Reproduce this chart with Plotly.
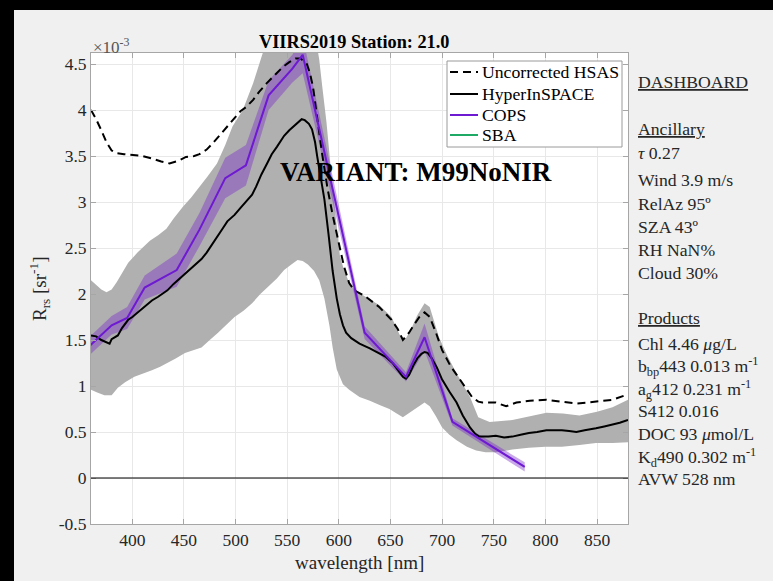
import plotly.graph_objects as go

# ---------------- data (reflectance in units of 1e-3 sr^-1) ----------------
hyp_wl = [360, 365, 370, 375, 378, 380, 383, 386, 390, 396, 400, 405, 410, 415, 419, 425, 430, 434,
          440, 445, 451, 455, 460, 467, 472, 477, 483, 488, 492, 499, 505, 510, 516, 520, 525, 531,
          535, 540, 547, 552, 556, 560, 564, 567, 571, 574, 577, 579, 582, 586, 590, 594, 598, 601,
          604, 607, 612, 620, 630, 639, 645, 652, 657, 662, 665, 668, 672, 676, 680, 683, 686, 690,
          695, 700, 707, 714, 720, 727, 732, 736, 745, 752, 760, 768, 776, 784, 792, 801, 808, 816,
          823, 830, 838, 845, 849, 857, 865, 872, 880]
hyp_rrs = [1.55, 1.54, 1.50, 1.48, 1.46, 1.51, 1.53, 1.55, 1.63, 1.72, 1.75, 1.80, 1.84, 1.89, 1.93,
           1.97, 2.01, 2.04, 2.11, 2.16, 2.23, 2.27, 2.31, 2.38, 2.45, 2.53, 2.63, 2.72, 2.79, 2.86,
           2.94, 3.00, 3.08, 3.17, 3.30, 3.43, 3.52, 3.60, 3.72, 3.78, 3.82, 3.87, 3.90, 3.89, 3.85,
           3.79, 3.65, 3.50, 3.30, 3.03, 2.65, 2.25, 1.95, 1.78, 1.66, 1.58, 1.52, 1.46, 1.41, 1.36,
           1.32, 1.25, 1.17, 1.10, 1.08, 1.12, 1.22, 1.30, 1.35, 1.37, 1.36, 1.30, 1.20, 1.07, 0.94,
           0.82, 0.68, 0.55, 0.48, 0.45, 0.45, 0.46, 0.44, 0.45, 0.47, 0.49, 0.50, 0.52, 0.52, 0.52,
           0.51, 0.50, 0.52, 0.53, 0.54, 0.56, 0.58, 0.60, 0.63]

band_hi_wl = [360, 365, 370, 375, 380, 385, 390, 396, 405, 412, 417, 425, 433, 440, 449, 457, 465,
              473, 482, 490, 497, 507, 517, 523, 530, 545, 565, 578, 581, 584, 588, 594, 601, 604,
              610, 615, 623, 639, 651, 660, 665, 670, 676, 683, 688, 697, 705, 714, 727, 735, 746,
              768, 785, 801, 817, 833, 850, 865, 880]
band_hi = [2.15, 2.10, 2.05, 2.02, 2.05, 2.13, 2.22, 2.34, 2.45, 2.53, 2.58, 2.64, 2.71, 2.82, 2.95,
           3.05, 3.16, 3.28, 3.42, 3.62, 3.82, 4.00, 4.29, 4.51, 4.75, 4.95, 4.95, 4.75, 4.55, 4.25,
           3.87, 3.15, 2.42, 2.30, 2.12, 2.05, 1.99, 1.88, 1.75, 1.53, 1.52, 1.62, 1.77, 1.90, 1.86,
           1.53, 1.33, 1.14, 0.88, 0.66, 0.61, 0.63, 0.67, 0.71, 0.70, 0.68, 0.72, 0.77, 0.85]

band_lo_wl = [360, 366, 373, 380, 386, 393, 402, 410, 419, 427, 434, 442, 451, 459, 467, 475, 483,
              491, 499, 508, 516, 524, 531, 540, 547, 554, 560, 565, 570, 576, 581, 586, 591, 594,
              598, 604, 610, 620, 630, 640, 649, 656, 662, 668, 675, 683, 688, 694, 700, 707, 714,
              724, 733, 742, 752, 768, 784, 800, 816, 833, 849, 865, 880]
band_lo = [0.96, 0.93, 0.90, 0.90, 0.98, 1.04, 1.10, 1.13, 1.17, 1.21, 1.25, 1.30, 1.36, 1.39, 1.42,
           1.50, 1.58, 1.66, 1.75, 1.82, 1.90, 2.00, 2.08, 2.17, 2.26, 2.32, 2.37, 2.36, 2.32, 2.25,
           2.15, 1.95, 1.65, 1.42, 1.18, 1.02, 0.96, 0.88, 0.84, 0.79, 0.75, 0.70, 0.66, 0.70, 0.76,
           0.82, 0.78, 0.67, 0.55, 0.47, 0.41, 0.34, 0.30, 0.28, 0.28, 0.31, 0.33, 0.34, 0.34, 0.36,
           0.38, 0.38, 0.39]

unc_wl = [360, 365, 370, 375, 380, 385, 392, 400, 410, 420, 428, 436, 445, 452, 460, 465, 472, 478,
          485, 490, 497, 505, 510, 517, 523, 530, 538, 546, 552, 558, 563, 569, 572, 575, 578, 581,
          584, 589, 594, 601, 605, 610, 615, 625, 639, 651, 657, 662, 668, 673, 678, 683, 688, 694,
          700, 708, 717, 723, 729, 735, 739, 752, 762, 772, 785, 801, 816, 830, 840, 849, 865, 880]
unc_rrs = [4.00, 3.90, 3.78, 3.65, 3.56, 3.53, 3.52, 3.51, 3.50, 3.47, 3.44, 3.42, 3.45, 3.49, 3.50,
           3.52, 3.57, 3.64, 3.73, 3.79, 3.89, 3.99, 4.03, 4.11, 4.20, 4.29, 4.38, 4.47, 4.52, 4.56,
           4.56, 4.50, 4.40, 4.25, 4.00, 3.75, 3.51, 3.15, 2.86, 2.50, 2.30, 2.12, 2.04, 1.98, 1.86,
           1.72, 1.62, 1.50, 1.58, 1.67, 1.75, 1.80, 1.75, 1.58, 1.39, 1.22, 1.07, 0.97, 0.88, 0.83,
           0.82, 0.82, 0.78, 0.82, 0.84, 0.85, 0.83, 0.81, 0.82, 0.83, 0.85, 0.91]

cops_wl = [340, 380, 395, 412, 443, 465, 490, 510, 532, 555, 565, 625, 665, 683, 710, 780]
cops_rrs = [1.24, 1.66, 1.74, 2.07, 2.26, 2.70, 3.26, 3.40, 4.16, 4.45, 4.60, 1.58, 1.10, 1.53, 0.61, 0.12]
cops_sd = [0.10, 0.10, 0.12, 0.13, 0.18, 0.18, 0.22, 0.22, 0.16, 0.15, 0.20, 0.07, 0.05, 0.15, 0.04, 0.05]

x_ticks = [400, 450, 500, 550, 600, 650, 700, 750, 800, 850]
y_ticks = [-0.5, 0, 0.5, 1, 1.5, 2, 2.5, 3, 3.5, 4, 4.5]

series_names = ["Uncorrected HSAS", "HyperInSPACE", "COPS", "SBA"]
title_text = "VIIRS2019 Station: 21.0"
variant_text = "VARIANT: M99NoNIR"
x_title = "wavelength [nm]"
y_title = "R<sub>rs</sub> [sr<sup>-1</sup>]"
dash_lines = [
    ("<u>DASHBOARD</u>", 82),
    ("<u>Ancillary</u>", 129),
    ("<i>τ</i> 0.27", 153),
    ("Wind 3.9 m/s", 180),
    ("RelAz 95º", 204),
    ("SZA 43º", 227),
    ("RH NaN%", 250),
    ("Cloud 30%", 273),
    ("<u>Products</u>", 318),
    ("Chl 4.46 <i>μ</i>g/L", 344),
    ("b<sub>bp</sub>443 0.013 m<sup>-1</sup>", 366),
    ("a<sub>g</sub>412 0.231 m<sup>-1</sup>", 389),
    ("S412 0.016", 411),
    ("DOC 93 <i>μ</i>mol/L", 434),
    ("K<sub>d</sub>490 0.302 m<sup>-1</sup>", 457),
    ("AVW 528 nm", 479),
]

# ---------------- layout geometry ----------------
W, H = 773, 581
L, R, T, B = 91, 628, 53, 524
SERIF = "Liberation Serif, Times New Roman, serif"
TXT = "#262626"


def px(x):
    return (x - L) / (R - L)


def py(y):
    return (B - y) / (B - T)


PURPLE = "rgb(110,25,210)"
GREEN = "rgb(30,170,100)"
GRAY = "rgb(176,176,176)"
DASH = "8px,5px"

fig = go.Figure()

# HyperInSPACE std band
fig.add_trace(go.Scatter(
    x=band_hi_wl + band_lo_wl[::-1], y=band_hi + band_lo[::-1],
    fill="toself", fillcolor=GRAY, line=dict(width=0), mode="lines",
    showlegend=False, hoverinfo="skip"))

# COPS std band
cops_hi = [v + s for v, s in zip(cops_rrs, cops_sd)]
cops_lo = [v - s for v, s in zip(cops_rrs, cops_sd)]
fig.add_trace(go.Scatter(
    x=cops_wl + cops_wl[::-1], y=cops_hi + cops_lo[::-1],
    fill="toself", fillcolor="rgba(120,40,200,0.40)", line=dict(width=0), mode="lines",
    showlegend=False, hoverinfo="skip"))

fig.add_trace(go.Scatter(x=unc_wl, y=unc_rrs, mode="lines", name=series_names[0], showlegend=False,
                         line=dict(color="black", width=2, dash=DASH)))
fig.add_trace(go.Scatter(x=hyp_wl, y=hyp_rrs, mode="lines", name=series_names[1], showlegend=False,
                         line=dict(color="black", width=2)))
fig.add_trace(go.Scatter(x=cops_wl, y=cops_rrs, mode="lines", name=series_names[2], showlegend=False,
                         line=dict(color=PURPLE, width=2)))
fig.add_trace(go.Scatter(x=[None], y=[None], mode="lines", name=series_names[3], showlegend=False,
                         line=dict(color=GREEN, width=2)))

fig.add_hline(y=0, line=dict(color="black", width=1.2))

axis_common = dict(
    showgrid=True, gridcolor="#e8e8e8", gridwidth=1,
    showline=True, linecolor="#a6a6a6", linewidth=1, mirror="ticks",
    ticks="inside", ticklen=5, tickcolor="#a6a6a6",
    tickfont=dict(family=SERIF, size=17.5, color=TXT),
    zeroline=False,
)

fig.update_layout(
    width=W, height=H,
    margin=dict(l=L, r=W - R, t=T, b=H - B, pad=0),
    paper_bgcolor="#f0f0f0", plot_bgcolor="white",
    font=dict(family=SERIF, size=17, color=TXT),
    xaxis=dict(range=[360, 880], tickvals=x_ticks, ticktext=[str(v) for v in x_ticks],
               **axis_common),
    yaxis=dict(range=[-0.5, 4.62], tickvals=y_ticks,
               ticktext=[("%g" % v) for v in y_ticks],
               **axis_common),
    showlegend=False,
)

# axis titles (placed tight like MATLAB)
fig.add_annotation(text=x_title, x=px(359), y=py(562), xref="paper", yref="paper", showarrow=False,
                   font=dict(family=SERIF, size=19, color=TXT), xanchor="center", yanchor="middle")
fig.add_annotation(text=y_title, x=px(39), y=py(289), xref="paper", yref="paper", showarrow=False,
                   textangle=-90, font=dict(family=SERIF, size=19, color=TXT),
                   xanchor="center", yanchor="middle")

# ---- legend box (drawn in the MATLAB style) ----
fig.add_shape(type="rect", xref="paper", yref="paper", x0=px(447), x1=px(622), y0=py(147), y1=py(61),
              fillcolor="white", line=dict(color="#9a9a9a", width=1), layer="above")
leg_styles = [("black", DASH), ("black", "solid"), (PURPLE, "solid"), (GREEN, "solid")]
leg_y = [72, 94, 115, 135]
for name, (col, dsh), ly in zip(series_names, leg_styles, leg_y):
    fig.add_shape(type="line", xref="paper", yref="paper", x0=px(450), x1=px(478), y0=py(ly), y1=py(ly),
                  line=dict(color=col, width=2, dash=dsh), layer="above")
    fig.add_annotation(text=name, x=px(480), y=py(ly), xref="paper", yref="paper", showarrow=False,
                       font=dict(family=SERIF, size=17.7, color="black"),
                       xanchor="left", yanchor="middle")

# title
fig.add_annotation(text="<b>" + title_text + "</b>", x=px(354), y=py(42), xref="paper", yref="paper",
                   showarrow=False, font=dict(family=SERIF, size=18.3, color="black"),
                   xanchor="center", yanchor="middle")
# exponent label
fig.add_annotation(text="×10<sup>-3</sup>", x=px(91), y=py(46), xref="paper", yref="paper",
                   showarrow=False, font=dict(family=SERIF, size=17, color="#555555"),
                   xanchor="left", yanchor="middle")
# variant
fig.add_annotation(text="<b>" + variant_text + "</b>", x=px(416), y=py(172), xref="paper", yref="paper",
                   showarrow=False, font=dict(family=SERIF, size=27, color="black"),
                   xanchor="center", yanchor="middle")
# dashboard
for txt, ypix in dash_lines:
    fig.add_annotation(text=txt, x=px(636), y=py(ypix), xref="paper", yref="paper",
                       showarrow=False, font=dict(family=SERIF, size=17.7, color=TXT),
                       xanchor="left", yanchor="middle")

# black frame of the screenshot (top and left edges)
fig.add_shape(type="rect", xref="paper", yref="paper", x0=px(0), x1=px(W), y0=py(10), y1=py(0),
              fillcolor="black", line=dict(width=0), layer="above")
fig.add_shape(type="rect", xref="paper", yref="paper", x0=px(0), x1=px(14), y0=py(H), y1=py(0),
              fillcolor="black", line=dict(width=0), layer="above")

fig.write_html("out.html")
